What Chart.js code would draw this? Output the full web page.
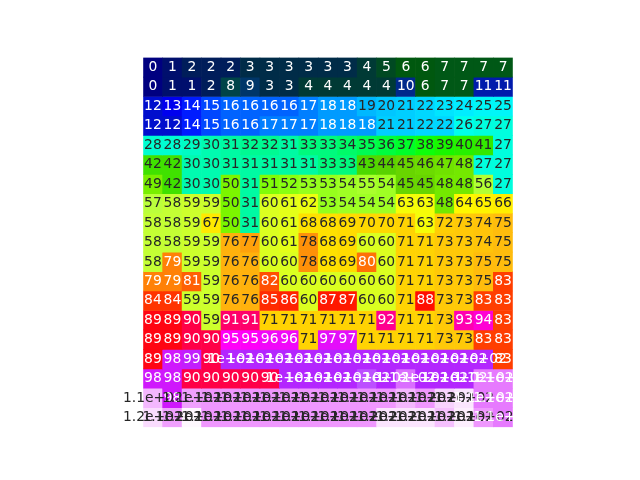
<!DOCTYPE html>
<html>
<head>
<meta charset="utf-8">
<script src="https://cdn.jsdelivr.net/npm/chart.js@4/dist/chart.umd.min.js"></script>
<style>
  html, body { margin: 0; padding: 0; background: #ffffff; }
  canvas { display: block; }
</style>
</head>
<body>
<canvas id="c" width="640" height="480"></canvas>
<script>
// Column categories (19 columns), one row array per heatmap row (top to bottom)
const columns = ['0','1','2','3','4','5','6','7','8','9','10','11','12','13','14','15','16','17','18'];
const r00 = [0,1,2,2,2,3,3,3,3,3,3,4,5,6,6,7,7,7,7];
const r01 = [0,1,1,2,8,9,3,3,4,4,4,4,4,10,6,7,7,11,11];
const r02 = [12,13,14,15,16,16,16,16,17,18,18,19,20,21,22,23,24,25,25];
const r03 = [12,12,14,15,16,16,17,17,17,18,18,18,21,21,22,22,26,27,27];
const r04 = [28,28,29,30,31,32,32,31,33,33,34,35,36,37,38,39,40,41,27];
const r05 = [42,42,30,30,31,31,31,31,31,33,33,43,44,45,46,47,48,27,27];
const r06 = [49,42,30,30,50,31,51,52,53,53,54,55,54,45,45,48,48,56,27];
const r07 = [57,58,59,59,50,31,60,61,62,53,54,54,54,63,63,48,64,65,66];
const r08 = [58,58,59,67,50,31,60,61,68,68,69,70,70,71,63,72,73,74,75];
const r09 = [58,58,59,59,76,77,60,61,78,68,69,60,60,71,71,73,73,74,75];
const r10 = [58,79,59,59,76,76,60,60,78,68,69,80,60,71,71,73,73,75,75];
const r11 = [79,79,81,59,76,76,82,60,60,60,60,60,60,71,71,73,73,75,83];
const r12 = [84,84,59,59,76,76,85,86,60,87,87,60,60,71,88,73,73,83,83];
const r13 = [89,89,90,59,91,91,71,71,71,71,71,71,92,71,71,73,93,94,83];
const r14 = [89,89,90,90,95,95,96,96,71,97,97,71,71,71,71,73,73,83,83];
const r15 = [89,98,99,90,100,100,100,100,100,100,100,100,100,100,100,100,100,100,83];
const r16 = [98,98,90,90,90,90,90,100,100,100,100,104,100,106,100,100,100,107,107];
const r17 = [113,98,111,110,110,110,110,110,110,110,110,110,110,113,110,116,118,107,107];
const r18 = [117,111,120,110,110,110,110,110,110,110,110,110,118,118,118,114,119,110,107];
const grid = [r00,r01,r02,r03,r04,r05,r06,r07,r08,r09,r10,r11,r12,r13,r14,r15,r16,r17,r18];

// gist_ncar colormap segments (matplotlib)
const CM = {
  r: [[0,0],[0.3098,0],[0.3725,0.3993],[0.4235,0.5003],[0.5333,1],[0.7922,1],[0.8471,0.6218],[0.898,0.9235],[1,0.9961]],
  g: [[0,0],[0.051,0.3722],[0.1059,0],[0.1569,0.7202],[0.1608,0.7537],[0.1647,0.7752],[0.2157,1],[0.2588,0.9804],[0.2706,0.9804],[0.3176,1],[0.3686,0.8081],[0.4275,1],[0.5216,1],[0.6314,0.7292],[0.6863,0.2796],[0.7451,0],[0.7922,0],[0.8431,0.1753],[0.898,0.5],[1,0.9725]],
  b: [[0,0.502],[0.051,0.0222],[0.1098,1],[0.2039,1],[0.2627,0.6145],[0.3216,0],[0.4157,0],[0.4745,0.2342],[0.5333,0],[0.5804,0],[0.6314,0.0549],[0.6902,0],[0.7373,0],[0.7922,0.9725],[0.8431,1],[0.898,0.9961],[1,0.9961]]
};
function seg(pts, t) {
  for (let i = 1; i < pts.length; i++) {
    if (t <= pts[i][0]) {
      const [x0, y0] = pts[i-1], [x1, y1] = pts[i];
      return y0 + (y1 - y0) * (t - x0) / (x1 - x0);
    }
  }
  return pts[pts.length-1][1];
}
const allVals = grid.flat();
const vmin = Math.min(...allVals), vmax = Math.max(...allVals);
function cmapRGB(v) {
  let t = (v - vmin) / (vmax - vmin);
  let idx = Math.min(255, Math.max(0, Math.floor(t * 256)));
  const tt = idx / 255;
  return [seg(CM.r, tt), seg(CM.g, tt), seg(CM.b, tt)];
}
function toCss(rgb) {
  return 'rgb(' + rgb.map(c => Math.round(c * 255)).join(',') + ')';
}
function lum(rgb) {
  const l = rgb.map(c => c <= 0.03928 ? c / 12.92 : Math.pow((c + 0.055) / 1.055, 2.4));
  return 0.2126 * l[0] + 0.7152 * l[1] + 0.0722 * l[2];
}
function fmt2g(v) {
  if (Math.abs(v) >= 100) {
    let s = v.toExponential(1); // e.g. 1.1e+2
    let [m, e] = s.split('e');
    if (m.endsWith('.0')) m = m.slice(0, -2);
    const sign = e[0];
    let ed = e.slice(1);
    if (ed.length < 2) ed = '0' + ed;
    return m + 'e' + sign + ed;
  }
  return String(v);
}

const datasets = grid.map((row, d) => ({
  label: 'row ' + d,
  data: row.map(() => 1),
  backgroundColor: row.map(v => toCss(cmapRGB(v))),
  borderWidth: 0,
  barPercentage: 1,
  categoryPercentage: 1,
  stack: 'heat'
}));

const annotate = {
  id: 'annotate',
  afterDatasetsDraw(chart) {
    const ctx = chart.ctx;
    ctx.save();
    ctx.font = '13.89px "DejaVu Sans"';
    ctx.textAlign = 'center';
    ctx.textBaseline = 'alphabetic';
    grid.forEach((row, d) => {
      const meta = chart.getDatasetMeta(d);
      meta.data.forEach((bar, c) => {
        const v = row[c];
        const rgb = cmapRGB(v);
        ctx.fillStyle = lum(rgb) > 0.408 ? 'rgb(38,38,38)' : '#ffffff';
        const cy = (bar.y + bar.base) / 2;
        ctx.fillText(fmt2g(v), bar.x, cy + 3.7);
      });
    });
    ctx.restore();
  }
};

new Chart(document.getElementById('c'), {
  type: 'bar',
  data: { labels: columns, datasets },
  options: {
    responsive: false,
    animation: false,
    devicePixelRatio: 1,
    layout: { padding: { left: 143.2, right: 127.2, top: 57.6, bottom: 52.8 } },
    plugins: { legend: { display: false }, tooltip: { enabled: false } },
    scales: {
      x: { stacked: true, display: false, grid: { display: false } },
      y: { stacked: true, display: false, reverse: true, min: 0, max: 19, grid: { display: false } }
    }
  },
  plugins: [annotate]
});
</script>
</body>
</html>
